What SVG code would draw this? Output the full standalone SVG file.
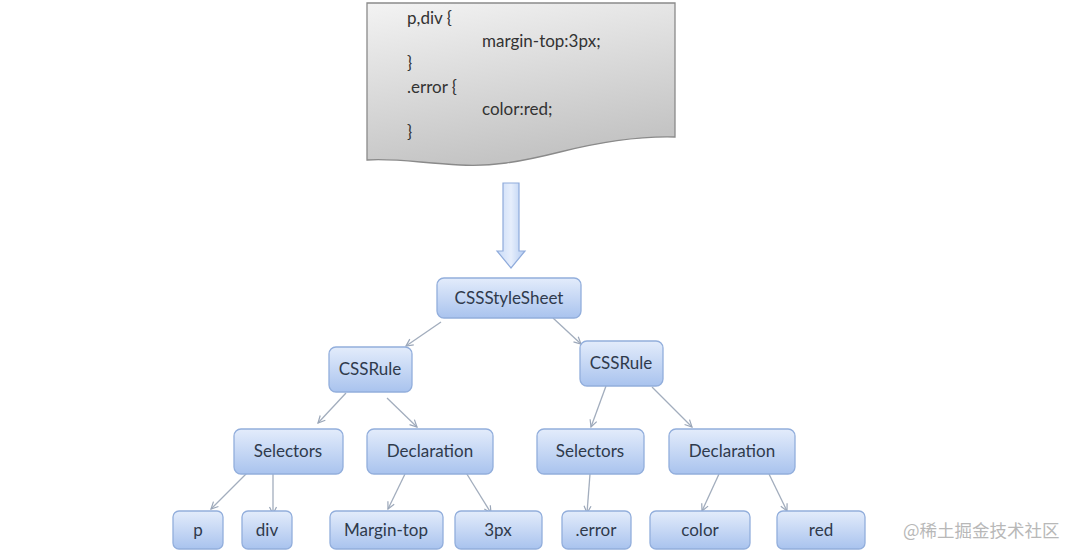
<svg xmlns="http://www.w3.org/2000/svg" width="1080" height="555" viewBox="0 0 1080 555">
<defs>
<linearGradient id="nodeGrad" x1="0" y1="0" x2="0" y2="1">
<stop offset="0" stop-color="#e3ecfb"/>
<stop offset="1" stop-color="#a9c3ee"/>
</linearGradient>
<linearGradient id="docGrad" x1="0" y1="0" x2="0.3" y2="1">
<stop offset="0" stop-color="#f3f3f3"/>
<stop offset="1" stop-color="#c4c4c4"/>
</linearGradient>
<linearGradient id="arrowGrad" x1="0" y1="0" x2="1" y2="0">
<stop offset="0" stop-color="#c9dbf7"/>
<stop offset="0.5" stop-color="#e6eefc"/>
<stop offset="1" stop-color="#b3cbf1"/>
</linearGradient>
<marker id="ah" markerWidth="10" markerHeight="10" refX="8" refY="5" orient="auto" markerUnits="userSpaceOnUse">
<path d="M1,1.5 L8,5 L1,8.5" fill="none" stroke="#9aa6b8" stroke-width="1.2"/>
</marker>
</defs>
<style>
.node rect{fill:url(#nodeGrad);stroke:#92aedc;stroke-width:1.3}
.node text{font-family:"Lato","Open Sans","Liberation Sans",sans-serif;font-size:17px;fill:#2f3a4c;text-anchor:middle}
.code{font-family:"Lato","Open Sans","Liberation Sans",sans-serif;font-size:17px;fill:#333}
#connectors line{stroke:#a2adbd;stroke-width:1.3;marker-end:url(#ah)}
</style>
<rect width="1080" height="555" fill="#ffffff"/>

<g id="document">
<path d="M367,3 L675,3 L675,137 C640,136 600,142 560,152 C520,162 490,167 460,165 C420,163 395,158 367,160 Z" fill="url(#docGrad)" stroke="#8a8a8a" stroke-width="1.3"/>
<text class="code" x="407" y="24">p,div {</text>
<text class="code" x="482" y="47">margin-top:3px;</text>
<text class="code" x="407" y="69">}</text>
<text class="code" x="407" y="93">.error {</text>
<text class="code" x="482" y="115">color:red;</text>
<text class="code" x="407" y="138">}</text>
</g>

<g id="bigArrow">
<path d="M503,183 L519,183 L519,251 L525,251 L511,268 L497,251 L503,251 Z" fill="url(#arrowGrad)" stroke="#8fabdb" stroke-width="1.2"/>
</g>

<g id="connectors">
<line x1="441" y1="322" x2="406" y2="346"/>
<line x1="553" y1="318" x2="581" y2="344"/>
<line x1="346" y1="393" x2="318" y2="423"/>
<line x1="387" y1="398" x2="417" y2="427"/>
<line x1="606" y1="386" x2="591" y2="427"/>
<line x1="652" y1="387" x2="692" y2="427"/>
<line x1="247" y1="473" x2="211" y2="509"/>
<line x1="273" y1="473" x2="273" y2="514"/>
<line x1="405" y1="474" x2="388" y2="509"/>
<line x1="465" y1="471" x2="491" y2="513"/>
<line x1="590" y1="474" x2="587" y2="513"/>
<line x1="719" y1="474" x2="702" y2="511"/>
<line x1="769" y1="474" x2="787" y2="511"/>
</g>

<g id="n-stylesheet" class="node"><rect x="437" y="278" width="144" height="40" rx="7"/><text x="509" y="304">CSSStyleSheet</text></g>
<g id="n-rule1" class="node"><rect x="329" y="347" width="83" height="45" rx="7"/><text x="370" y="375">CSSRule</text></g>
<g id="n-rule2" class="node"><rect x="580" y="341" width="83" height="45" rx="7"/><text x="621" y="369">CSSRule</text></g>
<g id="n-sel1" class="node"><rect x="234" y="429" width="109" height="45" rx="7"/><text x="288" y="457">Selectors</text></g>
<g id="n-decl1" class="node"><rect x="367" y="429" width="126" height="45" rx="7"/><text x="430" y="457">Declaration</text></g>
<g id="n-sel2" class="node"><rect x="537" y="429" width="107" height="45" rx="7"/><text x="590" y="457">Selectors</text></g>
<g id="n-decl2" class="node"><rect x="669" y="429" width="126" height="45" rx="7"/><text x="732" y="457">Declaration</text></g>
<g id="n-p" class="node"><rect x="173" y="511" width="50" height="38" rx="6"/><text x="198" y="536">p</text></g>
<g id="n-div" class="node"><rect x="242" y="511" width="50" height="38" rx="6"/><text x="267" y="536">div</text></g>
<g id="n-margin" class="node"><rect x="330" y="511" width="113" height="38" rx="6"/><text x="386" y="536">Margin-top</text></g>
<g id="n-3px" class="node"><rect x="455" y="511" width="87" height="38" rx="6"/><text x="498" y="536">3px</text></g>
<g id="n-error" class="node"><rect x="562" y="511" width="69" height="38" rx="6"/><text x="596" y="536">.error</text></g>
<g id="n-color" class="node"><rect x="650" y="511" width="100" height="38" rx="6"/><text x="700" y="536">color</text></g>
<g id="n-red" class="node"><rect x="777" y="511" width="88" height="38" rx="6"/><text x="821" y="536">red</text></g>

<text x="903" y="537" font-family="'Noto Sans CJK SC',sans-serif" font-size="17.5" fill="#b8b8b8">@稀土掘金技术社区</text>
</svg>
